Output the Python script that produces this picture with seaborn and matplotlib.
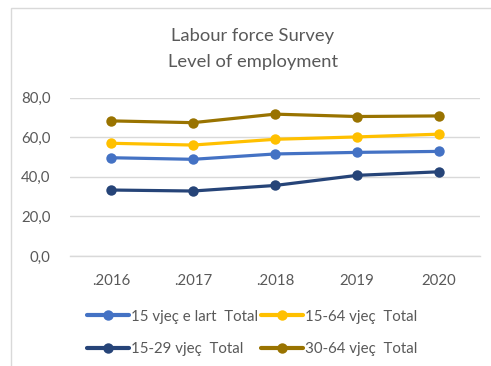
import matplotlib
matplotlib.use("Agg")
import matplotlib.pyplot as plt
import matplotlib.patches as mpatches
import seaborn as sns
import pandas as pd

years = [".2016", ".2017", ".2018", "2019", "2020"]
series_names = ["15 vjeç e lart  Total", "15-64 vjeç  Total", "15-29 vjeç  Total", "30-64 vjeç  Total"]
total_15_plus = [49.6, 48.8, 51.5, 52.3, 52.8]
total_15_64 = [56.9, 56.0, 58.9, 60.1, 61.5]
total_15_29 = [33.3, 32.8, 35.6, 40.7, 42.5]
total_30_64 = [68.2, 67.3, 71.6, 70.4, 70.7]
y_ticks = [0, 20, 40, 60, 80]
colors = ["#4472C4", "#FFC000", "#264478", "#997300"]

values = [total_15_plus, total_15_64, total_15_29, total_30_64]
rows = []
for name, vals in zip(series_names, values):
    for i, (yr, v) in enumerate(zip(years, vals)):
        rows.append({"pos": i, "year": yr, "series": name, "value": v})
df = pd.DataFrame(rows)

sns.set_theme(style="white")
plt.rcParams["font.family"] = ["Lato", "DejaVu Sans"]
text_color = "#595959"

fig = plt.figure(figsize=(4.91, 3.66), dpi=100)
fig.patch.set_facecolor("white")
# chart frame
fig.add_artist(mpatches.Rectangle((11 / 491, -0.1), 1.2, 1 - 8 / 366 + 0.1,
                                  transform=fig.transFigure, fill=False,
                                  edgecolor="#D9D9D9", linewidth=1.0))

ax = fig.add_axes([70 / 491, 1 - 256 / 366, 410 / 491, (256 - 97.5) / 366])
sns.lineplot(data=df, x="pos", y="value", hue="series", hue_order=series_names,
             palette=colors, marker="o", markersize=7.5, markeredgewidth=0,
             linewidth=2.3, ax=ax, legend=False, sort=False)

ax.set_xlim(-0.5, len(years) - 0.5)
ax.set_ylim(0, 80)
ax.set_xticks(range(len(years)))
ax.set_xticklabels(years)
ax.set_yticks(y_ticks)
ax.set_yticklabels([f"{t:.1f}".replace(".", ",") for t in y_ticks])
ax.yaxis.grid(True, color="#D9D9D9", linewidth=1.0)
ax.set_axisbelow(True)
for s in ["top", "right", "left"]:
    ax.spines[s].set_visible(False)
ax.spines["bottom"].set_color("#D9D9D9")
ax.spines["bottom"].set_linewidth(1.0)
ax.tick_params(axis="both", length=0, labelsize=10.8, colors=text_color)
ax.tick_params(axis="y", pad=14)
ax.tick_params(axis="x", pad=13)
ax.set_xlabel("")
ax.set_ylabel("")

fig.text(253 / 491, 1 - 36 / 366, "Labour force Survey", ha="center", va="center",
         fontsize=13.2, color=text_color)
fig.text(253 / 491, 1 - 62 / 366, "Level of employment", ha="center", va="center",
         fontsize=13.2, color=text_color)

handles = []
order = [0, 2, 1, 3]
for i in order:
    h, = ax.plot([], [], color=colors[i], marker="o", markersize=7.5,
                 markeredgewidth=0, linewidth=3)
    handles.append((h, series_names[i]))
leg = fig.legend([h for h, _ in handles], [n for _, n in handles], ncol=2,
                 loc="center left", bbox_to_anchor=(73 / 491, 1 - 333 / 366),
                 frameon=False, fontsize=10.8, handlelength=2.8, handletextpad=0.15,
                 columnspacing=0.2, labelspacing=1.25, labelcolor=text_color)

fig.savefig("out.png", dpi=100)
